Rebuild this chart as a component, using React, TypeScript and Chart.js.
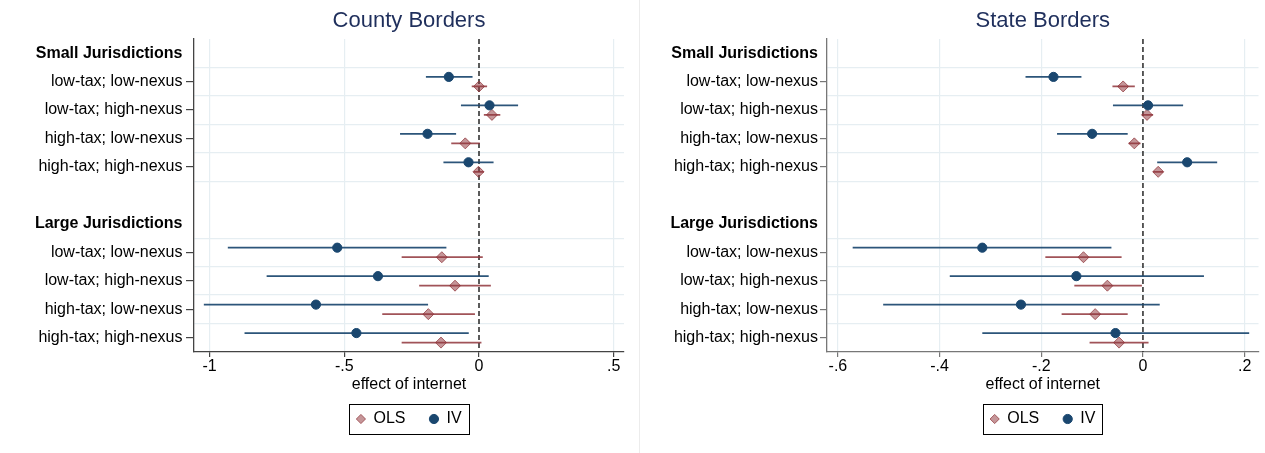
import React, { useEffect, useRef } from 'react';
import { Chart, registerables } from 'chart.js';

Chart.register(...registerables);

const FONT = "'Liberation Sans', Arial, Helvetica, sans-serif";

// ---- categories (rows of the coefficient plot, top to bottom) ----
const rowLabels = [
  'Small Jurisdictions',
  'low-tax; low-nexus',
  'low-tax; high-nexus',
  'high-tax; low-nexus',
  'high-tax; high-nexus',
  '',
  'Large Jurisdictions',
  'low-tax; low-nexus',
  'low-tax; high-nexus',
  'high-tax; low-nexus',
  'high-tax; high-nexus',
];
const headerRows = [0, 6];
const itemRows = [1, 2, 3, 4, 7, 8, 9, 10];
const separatorRows = [0.5, 1.5, 2.5, 3.5, 4.5, 6.5, 7.5, 8.5, 9.5];
const seriesNames = ['OLS', 'IV'];

// ---- County Borders ----
const countyIvEst = [-0.112, 0.039, -0.191, -0.039, -0.526, -0.375, -0.605, -0.455];
const countyIvLo = [-0.197, -0.067, -0.293, -0.132, -0.932, -0.788, -1.021, -0.87];
const countyIvHi = [-0.024, 0.145, -0.085, 0.054, -0.121, 0.036, -0.189, -0.038];
const countyOlsEst = [0.0, 0.048, -0.051, -0.002, -0.138, -0.089, -0.188, -0.141];
const countyOlsLo = [-0.027, 0.018, -0.103, -0.02, -0.287, -0.222, -0.359, -0.287];
const countyOlsHi = [0.03, 0.079, 0.003, 0.018, 0.014, 0.044, -0.015, 0.009];
const countyTickValues = [-1, -0.5, 0, 0.5];
const countyTickLabels = ['-1', '-.5', '0', '.5'];

// ---- State Borders ----
const stateIvEst = [-0.176, 0.01, -0.1, 0.087, -0.316, -0.131, -0.24, -0.054];
const stateIvLo = [-0.231, -0.059, -0.169, 0.028, -0.571, -0.38, -0.511, -0.316];
const stateIvHi = [-0.121, 0.079, -0.03, 0.146, -0.062, 0.12, 0.033, 0.209];
const stateOlsEst = [-0.039, 0.008, -0.017, 0.03, -0.117, -0.07, -0.094, -0.047];
const stateOlsLo = [-0.06, -0.001, -0.028, 0.02, -0.192, -0.135, -0.16, -0.105];
const stateOlsHi = [-0.016, 0.02, -0.005, 0.04, -0.042, -0.002, -0.03, 0.011];
const stateTickValues = [-0.6, -0.4, -0.2, 0, 0.2];
const stateTickLabels = ['-.6', '-.4', '-.2', '0', '.2'];

// ---- styles ----
const NAVY = '#1a476f';
const NAVY_LINE = 'rgba(26,71,111,0.92)';
const OLS_FILL = 'rgba(144,53,59,0.52)';
const OLS_EDGE = 'rgba(144,53,59,0.75)';
const OLS_LINE = 'rgba(144,53,59,0.85)';
const GRID = '#e6eef2';
const TITLE_COLOR = '#1f2f5c';
const CLEAR = 'rgba(0,0,0,0)';
const IV_OFFSET = -0.165;
const OLS_OFFSET = 0.17;

type PanelSpec = {
  title: string;
  xMin: number;
  xMax: number;
  tickValues: number[];
  tickLabels: string[];
  olsEst: number[];
  olsLo: number[];
  olsHi: number[];
  ivEst: number[];
  ivLo: number[];
  ivHi: number[];
  axisColor: string;
  yWidth: number;
  padRight: number;
  yTickLength: number;
  yPad: number;
};

const legendBoxPlugin = {
  id: 'legendBox',
  afterDraw(chart: any) {
    const lg = chart.legend;
    if (!lg || !lg.legendHitBoxes || !lg.legendHitBoxes.length) return;
    const hb = lg.legendHitBoxes;
    const first = hb[0];
    const last = hb[hb.length - 1];
    const l = Math.round(first.left - 7.5) + 0.5;
    const r = Math.round(last.left + last.width + 7) + 0.5;
    const t = Math.round(first.top - 7) + 0.5;
    const b = Math.round(first.top + first.height + 7) + 0.5;
    const ctx = chart.ctx;
    ctx.save();
    ctx.strokeStyle = '#000';
    ctx.lineWidth = 1;
    ctx.strokeRect(l, t, r - l, b - t);
    ctx.restore();
  },
};

function ciData(lo: number[], hi: number[], off: number) {
  return itemRows.flatMap((r, i) => [
    { x: lo[i], y: r + off },
    { x: hi[i], y: r + off },
    { x: null, y: null },
  ]);
}

function ptData(est: number[], off: number) {
  return itemRows.map((r, i) => ({ x: est[i], y: r + off }));
}

function buildConfig(s: PanelSpec): any {
  return {
    type: 'scatter',
    data: {
      datasets: [
        {
          label: 'OLS',
          data: ptData(s.olsEst, OLS_OFFSET),
          pointStyle: 'rectRot',
          pointRadius: 5.5,
          pointHoverRadius: 5.5,
          backgroundColor: OLS_FILL,
          borderColor: OLS_EDGE,
          borderWidth: 1,
          order: 1,
        },
        {
          label: 'IV',
          data: ptData(s.ivEst, IV_OFFSET),
          pointStyle: 'circle',
          pointRadius: 4.6,
          pointHoverRadius: 4.6,
          backgroundColor: NAVY,
          borderColor: NAVY,
          borderWidth: 1,
          order: 0,
        },
        {
          label: 'OLS CI',
          data: ciData(s.olsLo, s.olsHi, OLS_OFFSET),
          showLine: true,
          spanGaps: false,
          pointRadius: 0,
          pointHoverRadius: 0,
          borderColor: OLS_LINE,
          backgroundColor: CLEAR,
          borderWidth: 1.8,
          order: 3,
        },
        {
          label: 'IV CI',
          data: ciData(s.ivLo, s.ivHi, IV_OFFSET),
          showLine: true,
          spanGaps: false,
          pointRadius: 0,
          pointHoverRadius: 0,
          borderColor: NAVY_LINE,
          backgroundColor: CLEAR,
          borderWidth: 1.8,
          order: 2,
        },
        {
          label: 'zero',
          data: [
            { x: 0, y: -0.5 },
            { x: 0, y: 10.5 },
          ],
          showLine: true,
          pointRadius: 0,
          pointHoverRadius: 0,
          borderColor: '#333',
          backgroundColor: CLEAR,
          borderWidth: 1.6,
          borderDash: [5, 3],
          order: 4,
        },
      ],
    },
    options: {
      responsive: false,
      maintainAspectRatio: false,
      animation: false,
      events: [],
      layout: { padding: { left: 0, right: s.padRight, top: 0, bottom: 16 } },
      scales: {
        x: {
          type: 'linear',
          min: s.xMin,
          max: s.xMax,
          afterBuildTicks: (sc: any) => {
            sc.ticks = s.tickValues.map((v) => ({ value: v }));
          },
          ticks: {
            autoSkip: false,
            maxRotation: 0,
            padding: 0,
            color: '#000',
            font: { family: FONT, size: 16 },
            callback: (_v: any, i: number) => s.tickLabels[i],
          },
          grid: {
            color: (c: any) => (c.tick && c.tick.value === 0 ? CLEAR : GRID),
            lineWidth: 1.2,
            tickColor: s.axisColor,
            tickLength: 5,
            drawOnChartArea: true,
          },
          border: { display: true, color: s.axisColor, width: 1.3 },
          title: {
            display: true,
            text: 'effect of internet',
            color: '#000',
            font: { family: FONT, size: 16 },
            padding: { top: 0, bottom: -7 },
          },
          afterFit: (sc: any) => {
            sc.height = 35;
          },
        },
        y: {
          type: 'linear',
          reverse: true,
          min: -0.5,
          max: 10.5,
          afterBuildTicks: (sc: any) => {
            const vals = [...rowLabels.map((_, i) => i), ...separatorRows].sort((a, b) => a - b);
            sc.ticks = vals.map((v) => ({ value: v }));
          },
          ticks: {
            autoSkip: false,
            padding: s.yPad,
            color: '#000',
            font: (c: any) => ({
              family: FONT,
              size: 16,
              weight: c.tick && headerRows.includes(c.tick.value) ? 'bold' : 'normal',
            }),
            callback: (v: any) => {
              const n = Number(v);
              return Number.isInteger(n) ? rowLabels[n] : '';
            },
          },
          grid: {
            color: (c: any) => (c.tick && separatorRows.includes(c.tick.value) ? GRID : CLEAR),
            tickColor: (c: any) => (c.tick && itemRows.includes(c.tick.value) ? s.axisColor : CLEAR),
            tickLength: s.yTickLength,
            lineWidth: 1.2,
          },
          border: { display: true, color: s.axisColor, width: 1.3 },
          afterFit: (sc: any) => {
            sc.width = s.yWidth;
          },
        },
      },
      plugins: {
        tooltip: { enabled: false },
        title: {
          display: true,
          text: s.title,
          color: TITLE_COLOR,
          fullSize: false,
          font: { family: FONT, size: 22, weight: 'normal' },
          padding: { top: 7.5, bottom: 5 },
        },
        legend: {
          display: true,
          position: 'bottom',
          align: 'center',
          fullSize: false,
          labels: {
            usePointStyle: true,
            boxWidth: 9,
            boxHeight: 6.5,
            padding: 24,
            color: '#000',
            font: { family: FONT, size: 16 },
            filter: (item: any) => seriesNames.includes(item.text),
            sort: (a: any, b: any) => a.datasetIndex - b.datasetIndex,
          },
        },
      },
    },
    plugins: [legendBoxPlugin],
  };
}

const countySpec: PanelSpec = {
  title: 'County Borders',
  xMin: -1.0575,
  xMax: 0.538,
  tickValues: countyTickValues,
  tickLabels: countyTickLabels,
  olsEst: countyOlsEst,
  olsLo: countyOlsLo,
  olsHi: countyOlsHi,
  ivEst: countyIvEst,
  ivLo: countyIvLo,
  ivHi: countyIvHi,
  axisColor: '#444',
  yWidth: 194,
  padRight: 13,
  yTickLength: 8,
  yPad: 3.5,
};

const stateSpec: PanelSpec = {
  title: 'State Borders',
  xMin: -0.6215,
  xMax: 0.2273,
  tickValues: stateTickValues,
  tickLabels: stateTickLabels,
  olsEst: stateOlsEst,
  olsLo: stateOlsLo,
  olsHi: stateOlsHi,
  ivEst: stateIvEst,
  ivLo: stateIvLo,
  ivHi: stateIvHi,
  axisColor: '#777',
  yWidth: 187,
  padRight: 3,
  yTickLength: 7,
  yPad: 2,
};

function Panel({ spec, left, width }: { spec: PanelSpec; left: number; width: number }) {
  const ref = useRef<HTMLCanvasElement>(null);
  useEffect(() => {
    if (!ref.current) return;
    const chart = new Chart(ref.current, buildConfig(spec));
    return () => chart.destroy();
  }, [spec]);
  return (
    <div style={{ position: 'absolute', left, top: 0, width, height: 453 }}>
      <canvas ref={ref} width={width} height={453} style={{ display: 'block', width, height: 453 }} />
    </div>
  );
}

export default function App() {
  return (
    <div
      style={{
        position: 'absolute',
        left: 0,
        top: 0,
        width: 1265,
        height: 453,
        background: '#fff',
        overflow: 'hidden',
      }}
    >
      <Panel spec={countySpec} left={0} width={637} />
      <div style={{ position: 'absolute', left: 639, top: 0, width: 1, height: 453, background: '#ececec' }} />
      <Panel spec={stateSpec} left={640} width={625} />
    </div>
  );
}
